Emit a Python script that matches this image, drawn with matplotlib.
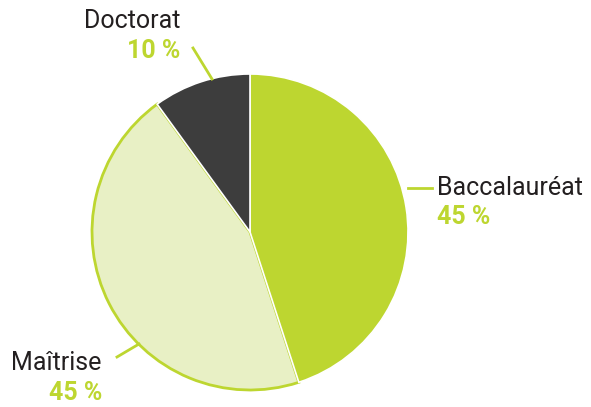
import matplotlib.pyplot as plt

labels = ['Baccalauréat', 'Maîtrise', 'Doctorat']
values = [45, 45, 10]
colors = ['#bdd630', '#e8f0c5', '#3d3d3d']
green = '#bdd630'
dark = '#231f20'

W, H = 591, 407
fig = plt.figure(figsize=(W / 100, H / 100), dpi=100)
ax = fig.add_axes([0, 0, 1, 1])

def Y(y):
    return H - y

cx, cy, r = 250, 232, 158
wedges, _ = ax.pie(values, colors=colors, startangle=90, counterclock=False,
                   center=(cx, Y(cy)), radius=r, frame=True,
                   wedgeprops=dict(linewidth=1.2, edgecolor='white'))
# green rim on the light wedge
wedges[1].set_edgecolor(green)
wedges[1].set_linewidth(2)
wedges[1].set_zorder(0.5)
ax.set_xlim(0, W)
ax.set_ylim(0, H)
ax.set_aspect('equal')
ax.axis('off')

# leader lines
ax.plot([193, 212], [Y(48), Y(79)], color=green, lw=2)
ax.plot([408, 432], [Y(188), Y(188)], color=green, lw=2)
ax.plot([117, 139], [Y(357), Y(344)], color=green, lw=2)

fam = ['Roboto', 'DejaVu Sans']
fs = 18
pct = [f'{v} %' for v in values]

ax.text(437, Y(188), labels[0], ha='left', va='center', fontsize=fs, color=dark, family=fam)
ax.text(437, Y(217), pct[0], ha='left', va='center', fontsize=fs, color=green, family=fam, fontweight='bold')

ax.text(101, Y(363), labels[1], ha='right', va='center', fontsize=fs, color=dark, family=fam)
ax.text(102, Y(393), pct[1], ha='right', va='center', fontsize=fs, color=green, family=fam, fontweight='bold')

ax.text(180, Y(21), labels[2], ha='right', va='center', fontsize=fs, color=dark, family=fam)
ax.text(180, Y(51), pct[2], ha='right', va='center', fontsize=fs, color=green, family=fam, fontweight='bold')

fig.savefig('out.png', dpi=100, facecolor='white')
